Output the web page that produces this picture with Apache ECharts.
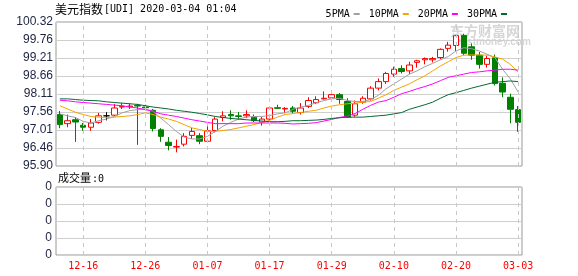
<!DOCTYPE html>
<html><head><meta charset="utf-8">
<script src="https://cdn.jsdelivr.net/npm/echarts@6/dist/echarts.min.js"></script>
<style>html,body{margin:0;padding:0;background:#fff}#c{width:578px;height:276px}</style>
</head><body><div id="c"></div>
<script>
const categories = ['12-11','12-12','12-13','12-16','12-17','12-18','12-19','12-20','12-23','12-24','12-25','12-26','12-27','12-30','12-31',
'01-01','01-02','01-03','01-06','01-07','01-08','01-09','01-10','01-13','01-14','01-15','01-16','01-17','01-20','01-21','01-22','01-23','01-24','01-27','01-28','01-29','01-30','01-31',
'02-03','02-04','02-05','02-06','02-07','02-10','02-11','02-12','02-13','02-14','02-17','02-18','02-19','02-20','02-21','02-24','02-25','02-26','02-27','02-28',
'03-02','03-03'];
const labelDates = ['12-16','12-26','01-07','01-17','01-29','02-10','02-20','03-03'];
const opens = [97.48,97.20,97.32,97.15,97.09,97.24,97.44,97.46,97.71,97.72,97.76,97.71,97.61,97.01,96.63,96.48,96.57,96.84,96.83,96.66,
96.99,97.39,97.48,97.44,97.44,97.40,97.25,97.34,97.69,97.65,97.68,97.54,97.73,97.84,97.96,97.99,98.09,97.88,97.46,97.86,
97.96,98.29,98.49,98.72,98.89,98.82,99.08,99.16,99.16,99.23,99.51,99.60,99.91,99.56,99.30,99.02,99.22,98.44,98.01,97.63];
const closes = [97.17,97.29,97.25,97.09,97.22,97.44,97.44,97.68,97.73,97.74,97.74,97.69,97.05,96.81,96.53,96.50,96.81,96.96,96.66,96.98,
97.34,97.44,97.44,97.42,97.48,97.29,97.34,97.68,97.67,97.67,97.58,97.68,97.91,97.94,97.98,98.09,97.94,97.40,97.81,97.98,
98.29,98.49,98.74,98.87,98.80,99.00,99.13,99.20,99.20,99.48,99.61,99.90,99.36,99.30,99.02,99.20,98.43,98.17,97.64,97.24];
const lows = [97.06,97.09,96.64,96.98,96.98,97.20,97.30,97.42,97.65,97.65,96.55,97.61,96.96,96.64,96.38,96.32,96.50,96.73,96.57,96.63,
96.93,97.27,97.32,97.32,97.37,97.25,97.14,97.30,97.65,97.53,97.51,97.48,97.68,97.80,97.94,97.94,97.81,97.38,97.41,97.81,
97.91,98.22,98.42,98.64,98.74,98.72,98.92,99.02,99.08,99.18,99.41,99.43,99.30,99.16,98.89,98.92,98.37,98.01,97.21,96.95];
const highs = [97.59,97.48,97.40,97.22,97.34,97.53,97.55,97.81,97.83,97.83,97.81,97.78,97.65,97.06,96.79,96.71,96.91,97.07,96.91,97.12,
97.40,97.58,97.61,97.56,97.61,97.48,97.40,97.71,97.78,97.71,97.74,97.83,98.01,98.04,98.19,98.17,98.14,97.98,97.91,98.04,
98.35,98.59,98.79,98.95,98.99,99.10,99.16,99.23,99.25,99.51,99.71,99.93,99.96,99.66,99.40,99.28,99.32,98.62,98.12,97.74];
const ma5 = [97.50,97.44,97.39,97.27,97.22,97.29,97.34,97.42,97.53,97.60,97.63,97.65,97.58,97.37,97.17,96.96,96.79,96.73,96.73,96.81,
96.96,97.12,97.24,97.34,97.40,97.42,97.42,97.45,97.50,97.53,97.64,97.71,97.76,97.84,97.91,97.96,97.98,97.91,97.88,97.88,
97.94,98.07,98.27,98.42,98.57,98.72,98.82,98.95,99.05,99.16,99.26,99.43,99.53,99.50,99.43,99.33,99.23,98.87,98.57,98.17];
const ma10 = [97.75,97.65,97.55,97.48,97.42,97.40,97.39,97.40,97.42,97.44,97.48,97.53,97.48,97.40,97.34,97.27,97.17,97.07,97.02,96.96,
96.96,96.99,97.02,97.07,97.12,97.17,97.24,97.30,97.40,97.48,97.51,97.54,97.58,97.61,97.68,97.74,97.78,97.81,97.83,97.86,
97.88,97.98,98.09,98.22,98.32,98.42,98.55,98.67,98.82,98.97,99.10,99.23,99.30,99.31,99.31,99.30,99.25,99.18,99.02,98.79];
const ma20 = [97.92,97.90,97.87,97.85,97.83,97.81,97.79,97.77,97.75,97.71,97.68,97.63,97.58,97.50,97.46,97.42,97.37,97.32,97.28,97.24,
97.20,97.20,97.20,97.20,97.22,97.22,97.22,97.22,97.22,97.21,97.19,97.20,97.21,97.23,97.28,97.33,97.39,97.43,97.51,97.64,
97.76,97.86,97.91,98.01,98.12,98.19,98.27,98.34,98.42,98.52,98.62,98.67,98.72,98.77,98.79,98.82,98.84,98.87,98.87,98.84];
const ma30 = [97.96,97.96,97.94,97.92,97.91,97.90,97.87,97.85,97.83,97.81,97.79,97.75,97.71,97.68,97.65,97.61,97.58,97.55,97.51,97.47,
97.42,97.39,97.36,97.34,97.32,97.30,97.28,97.26,97.26,97.27,97.29,97.29,97.30,97.31,97.33,97.36,97.38,97.40,97.40,97.40,
97.42,97.44,97.46,97.50,97.54,97.64,97.71,97.78,97.86,97.98,98.09,98.15,98.22,98.29,98.35,98.41,98.47,98.49,98.51,98.49];
const volumes = new Array(categories.length).fill(0);
const yTicks = ['95.90','96.46','97.01','97.56','98.11','98.66','99.21','99.76','100.32'];
const volTicks = ['0','0','0','0','0'];
const yMin = 95.90, yMax = 100.32, yStep = (yMax - yMin) / 8;

const candles = categories.map((c, i) => [opens[i], closes[i], lows[i], highs[i]]);
const MONO = "'DejaVu Sans Mono', monospace";
const CJK = "'Noto Sans CJK SC', sans-serif";
const labelIdx = labelDates.map(d => categories.indexOf(d));
const vLines = {
  silent: true, symbol: ['none', 'none'], label: { show: false }, emphasis: { disabled: true },
  lineStyle: { type: [4, 4], color: '#c8c8c8', width: 1 },
  data: labelDates.map(d => ({ xAxis: d }))
};
const chart = echarts.init(document.getElementById('c'), null, { renderer: 'canvas' });
const ma = (name, data, color) => ({
  name, type: 'line', data, xAxisIndex: 0, yAxisIndex: 0, symbol: 'none', color,
  lineStyle: { width: 1, color }, silent: true, z: 3
});
chart.setOption({
  animation: false,
  grid: [
    { left: 56, top: 22, width: 466, height: 144, show: true, borderColor: '#999', borderWidth: 1, backgroundColor: 'transparent' },
    { left: 56, top: 187, width: 466, height: 68, show: true, borderColor: '#999', borderWidth: 1, backgroundColor: 'transparent' }
  ],
  legend: {
    data: ['5PMA', '10PMA', '20PMA', '30PMA'], right: 66, top: 4, align: 'right',
    icon: 'rect', itemWidth: 6, itemHeight: 2, itemGap: 9, selectedMode: false,
    textStyle: { fontFamily: MONO, fontSize: 10, color: '#000', padding: [0, -1, 0, 0] }
  },
  xAxis: [
    { type: 'category', data: categories, gridIndex: 0, boundaryGap: true,
      axisLine: { show: false }, axisTick: { show: false }, axisLabel: { show: false }, splitLine: { show: false } },
    { type: 'category', data: categories, gridIndex: 1, boundaryGap: true,
      axisLine: { show: false }, axisTick: { show: false }, splitLine: { show: false },
      axisLabel: { interval: (i) => labelIdx.includes(i), color: '#ff0000', fontFamily: MONO, fontSize: 10, margin: 6 } }
  ],
  yAxis: [
    { type: 'value', gridIndex: 0, min: yMin, max: yMax, interval: yStep, scale: true,
      axisLine: { show: false }, axisTick: { show: false },
      splitLine: { lineStyle: { color: '#cfcfcf', width: 1 } },
      axisLabel: { margin: 3, color: '#1c2340', fontFamily: 'Liberation Sans, Arial, sans-serif', fontSize: 12,
        formatter: (v) => yTicks[Math.round((v - yMin) / yStep)] } },
    { type: 'value', gridIndex: 1, min: 0, max: 4, interval: 1,
      axisLine: { show: false }, axisTick: { show: false },
      splitLine: { lineStyle: { color: '#cfcfcf', width: 1 } },
      axisLabel: { margin: 4, color: '#1c2340', fontFamily: 'Liberation Sans, Arial, sans-serif', fontSize: 12,
        formatter: (v) => volTicks[Math.round(v)] } }
  ],
  series: [
    { type: 'line', xAxisIndex: 0, yAxisIndex: 0, data: [], markLine: vLines, z: 1, silent: true },
    { type: 'candlestick', name: 'UDI', data: candles, xAxisIndex: 0, yAxisIndex: 0, barWidth: 6, z: 2,
      itemStyle: { color: '#ffffff', color0: '#008000', borderColor: '#ff0000', borderColor0: '#008000', borderColorDoji: '#000000', borderWidth: 1 } },
    ma('5PMA', ma5, '#a0a0a0'),
    ma('10PMA', ma10, '#f5a400'),
    ma('20PMA', ma20, '#ff00ff'),
    ma('30PMA', ma30, '#006a32'),
    { type: 'bar', name: 'vol', data: volumes, xAxisIndex: 1, yAxisIndex: 1, markLine: vLines, silent: true }
  ],
  graphic: [
    { type: 'text', left: 55, top: 3, style: { text: '美元指数', font: '12px ' + CJK, fill: '#000' } },
    { type: 'text', left: 104, top: 4, style: { text: '[UDI] 2020-03-04 01:04', font: '10px ' + MONO, fill: '#000' } },
    { type: 'text', left: 58, top: 172, style: { text: '成交量', font: '11px ' + CJK, fill: '#000' } },
    { type: 'text', left: 92, top: 174, style: { text: ':0', font: '10px ' + MONO, fill: '#000' } },
    { type: 'text', left: 450, top: 24, z: 0, style: { text: '东方财富网', font: 'bold 14px ' + CJK, fill: '#d6d6d6' } },
    { type: 'text', left: 456, top: 37, z: 0, style: { text: 'eastmoney.com', font: 'bold 10px Arial, sans-serif', fill: '#d6d6d6' } }
  ]
});
</script></body></html>
